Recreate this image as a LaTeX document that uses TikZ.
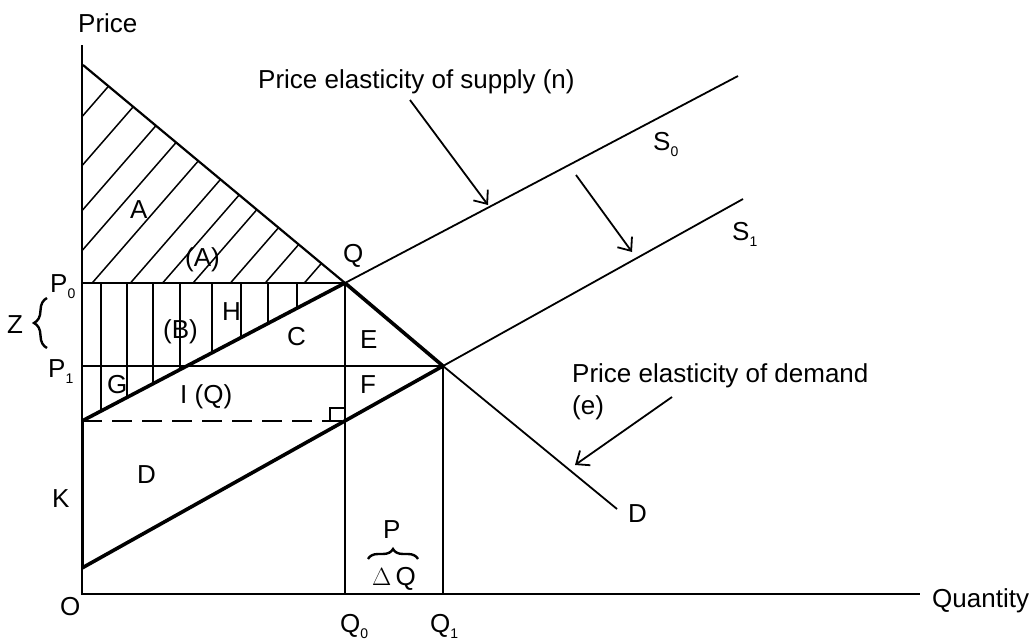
\documentclass[tikz,border=0pt]{standalone}
\usepackage{fontspec}
\setmainfont{Liberation Sans}
\usetikzlibrary{arrows.meta,decorations.pathreplacing}
\newcommand{\sbs}[1]{\raisebox{-6pt}{\fontsize{14}{14}\selectfont #1}}
\begin{document}
\begin{tikzpicture}[x=1pt,y=-1pt,
  thinln/.style={line width=1.8pt},
  thickln/.style={line width=3.6pt},
  hatch/.style={line width=1.5pt},
  lbl/.style={anchor=base west,inner sep=0pt,font=\fontsize{26}{31}\selectfont},
  ptr/.style={line width=1.8pt,-{Straight Barb[length=11pt,width=18pt,line width=1.8pt]}},
  brc/.style={line width=2.4pt,decorate}]
\useasboundingbox (0,0) rectangle (1029,640);
% key points
\coordinate (O) at (82,594);
\coordinate (Ytop) at (82,45);
\coordinate (Xend) at (920,594);
\coordinate (Dtop) at (83,65);
\coordinate (Q) at (345,283);
\coordinate (E1) at (443,366);
\coordinate (Dend) at (617,509);
\coordinate (S0a) at (82,421);
\coordinate (S0b) at (738,76);
\coordinate (S1a) at (82,568);
\coordinate (S1b) at (743,199);
\coordinate (P0a) at (82,283);
\coordinate (P1a) at (82,366);
\coordinate (Q0b) at (345,594);
\coordinate (Q1b) at (443,594);
\coordinate (Dsh) at (345,421);
% hatching A
\begin{scope}
\clip (P0a) -- (Dtop) -- (Q) -- cycle;
\foreach \c in {211,260,305,345,389,433,470,505,548,588,633}
  \draw[hatch] (60,{\c-1.15*60}) -- (400,{\c-1.15*400});
\end{scope}
% hatching B
\begin{scope}
\clip (P0a) -- (Q) -- (S0a) -- cycle;
\foreach \x in {101,127,153,180,212,241,268,297}
  \draw[hatch] (\x,280) -- (\x,430);
\end{scope}
% axes
\draw[line width=2pt] (Ytop) -- (O) -- (Xend);
\draw[line width=3pt] (S0a) -- (S1a);
% horizontals and verticals
\draw[thinln] (P0a) -- (Q);
\draw[thinln] (P1a) -- (E1);
\draw[thinln] (Q) -- (Q0b);
\draw[thinln] (E1) -- (Q1b);
\draw[thinln,dash pattern=on 20pt off 10pt] (S0a) -- (Dsh);
\draw[line width=1.6pt] (330,421) -- (330,408) -- (345,408);
% demand
\draw[line width=2.2pt] (Dtop) -- (Q);
\draw[thickln] (Q) -- (E1);
\draw[thinln] (E1) -- (Dend);
% supply S0
\draw[thickln] (S0a) -- (Q);
\draw[thinln] (Q) -- (S0b);
% supply S1
\draw[thickln] (S1a) -- (E1);
\draw[thinln] (E1) -- (S1b);
% arrows
\coordinate (a1s) at (410,100); \coordinate (a1e) at (488,205);
\coordinate (a2s) at (576,175); \coordinate (a2e) at (632,252);
\coordinate (a3s) at (672,397); \coordinate (a3e) at (575,465);
\draw[ptr] (a1s) -- (a1e);
\draw[ptr] (a2s) -- (a2e);
\draw[ptr] (a3s) -- (a3e);
% braces
\draw[brc,decoration={brace,amplitude=13pt}] (47,348) -- (47,298);
\draw[brc,decoration={brace,amplitude=10pt}] (368,559) -- (418,559);
% labels
\node[lbl] (tPrice) at (78,32) {Price};
\node[lbl] (tSup) at (258,88) {Price elasticity of supply (n)};
\node[lbl] (tA) at (130,218) {A};
\node[lbl] (tAA) at (185,266) {(A)};
\node[lbl] (tQ) at (343,262) {Q};
\node[lbl] (tS0) at (653,150) {S\sbs{0}};
\node[lbl] (tS1) at (732,240) {S\sbs{1}};
\node[lbl] (tP0) at (50,292) {P\sbs{0}};
\node[lbl] (tZ) at (7,333) {Z};
\node[lbl] (tB) at (163,338) {(B)};
\node[lbl] (tH) at (222,320) {H};
\node[lbl] (tC) at (287,345) {C};
\node[lbl] (tE) at (360,348) {E};
\node[lbl] (tP1) at (48,377) {P\sbs{1}};
\node[lbl] (tG) at (107,393) {G};
\node[lbl] (tI) at (180,403) {I (Q)};
\node[lbl] (tF) at (360,393) {F};
\node[lbl] (tD) at (137,483) {D};
\node[lbl] (tK) at (52,507) {K};
\node[lbl] (tO) at (60,615) {O};
\node[lbl] (tP) at (383,538) {P};
\node[lbl] (tDQ) at (372,585) {$\Delta$\,Q};
\node[lbl] (tQ0) at (340,632) {Q\sbs{0}};
\node[lbl] (tQ1) at (430,632) {Q\sbs{1}};
\node[lbl] (tDem) at (572,382) {Price elasticity of demand};
\node[lbl] (te) at (572,414) {(e)};
\node[lbl] (tDD) at (628,522) {D};
\node[lbl] (tQty) at (932,607) {Quantity};
\end{tikzpicture}
\end{document}
